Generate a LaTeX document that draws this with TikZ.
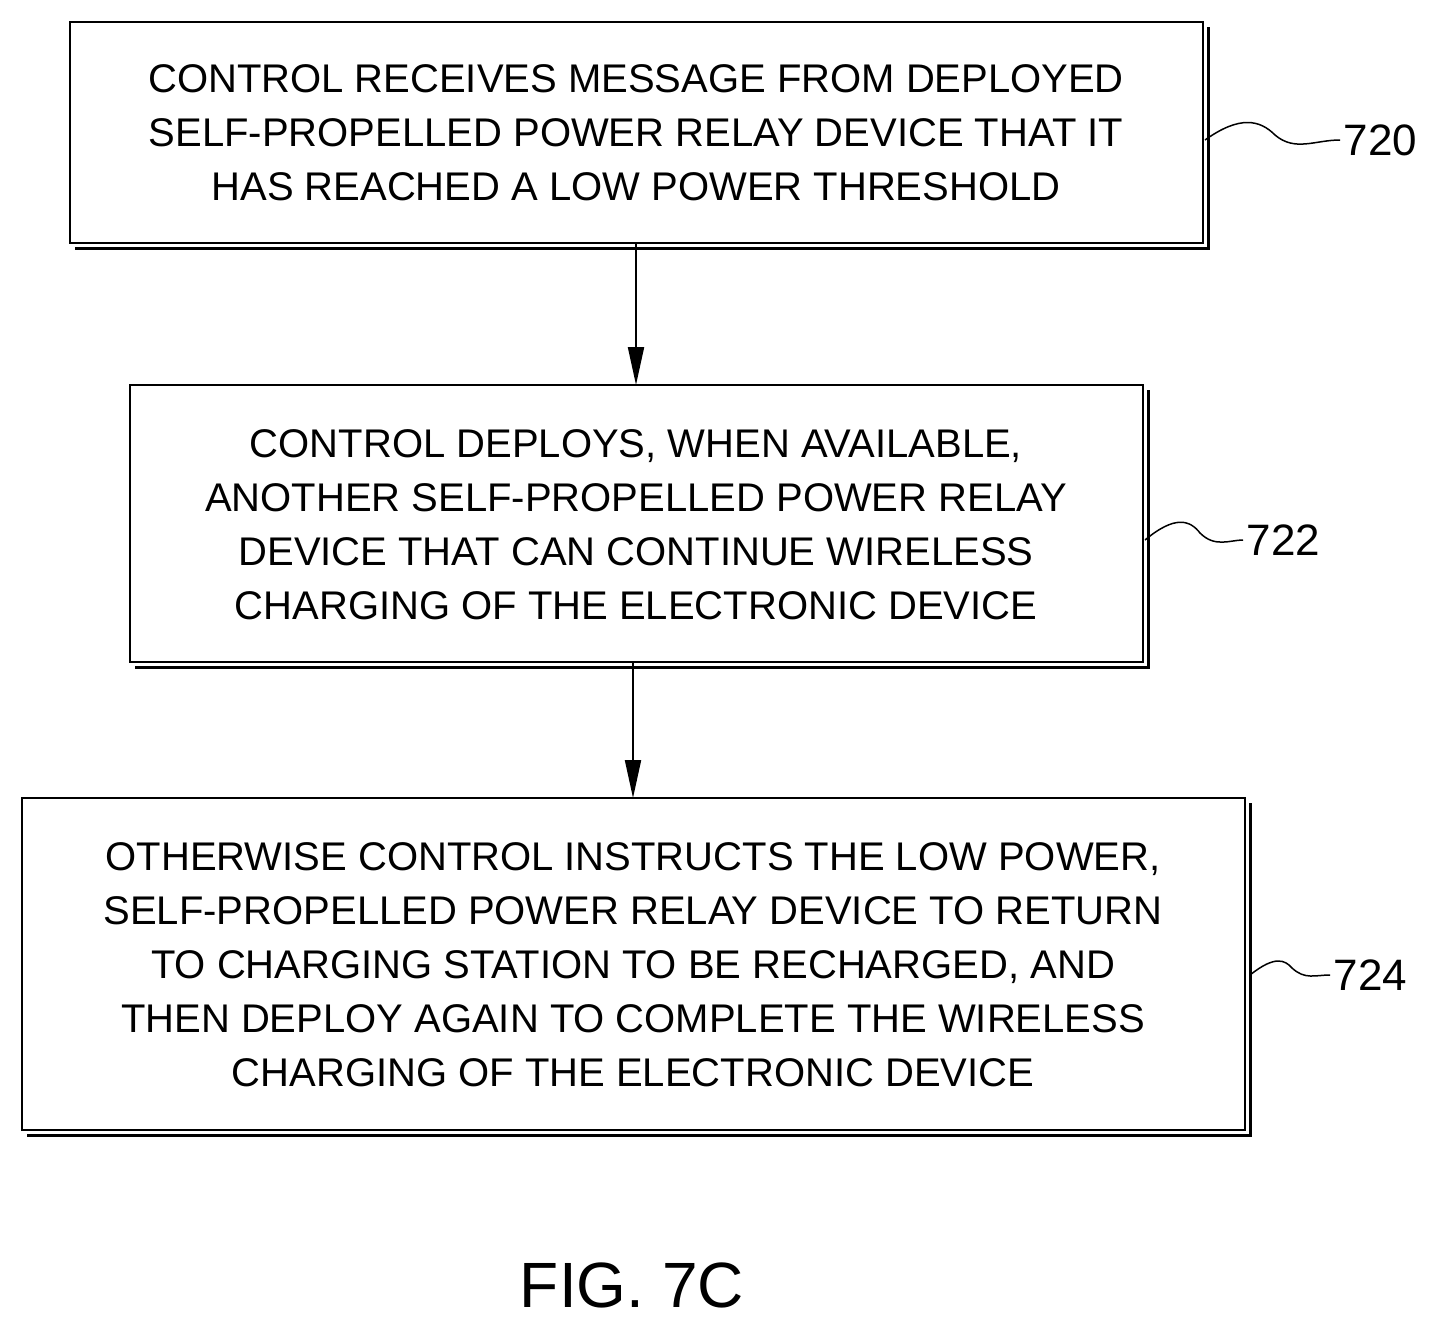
\documentclass[tikz,border=0pt]{standalone}
\usepackage{fontspec}
\setmainfont{Liberation Sans}
\usetikzlibrary{arrows.meta}
\begin{document}
\begin{tikzpicture}[x=1pt,y=-1pt,
  box/.style={draw,line width=2pt,fill=white,align=center,font=\fontsize{40}{54}\selectfont,inner sep=0pt},
  shadow/.style={line width=3pt},
  arr/.style={line width=2pt,-{Triangle[length=38pt,width=16pt]}},
  lab/.style={font=\fontsize{44}{50}\selectfont,anchor=west},
  sq/.style={line width=1.5pt}]
\useasboundingbox (0,0) rectangle (1447,1331);
% box 1
\draw[shadow] (75,248) -- (1208,248) -- (1208,27);
\draw[box] (70,22) rectangle (1203,243);
\node[font=\fontsize{40}{54}\selectfont,align=center] (b1) at (636,133) {CONTROL RECEIVES MESSAGE FROM DEPLOYED\\SELF-PROPELLED POWER RELAY DEVICE THAT IT\\HAS REACHED A LOW POWER THRESHOLD};
\coordinate (b1s) at (636,243);
% box 2
\draw[shadow] (135,667) -- (1148,667) -- (1148,390);
\draw[box] (130,385) rectangle (1143,662);
\node[font=\fontsize{40}{54}\selectfont,align=center] (b2) at (636,525) {CONTROL DEPLOYS, WHEN AVAILABLE,\\ANOTHER SELF-PROPELLED POWER RELAY\\DEVICE THAT CAN CONTINUE WIRELESS\\CHARGING OF THE ELECTRONIC DEVICE};
\coordinate (b2n) at (636,385);
\coordinate (b2s) at (633,662);
% box 3
\draw[shadow] (27,1135) -- (1250,1135) -- (1250,803);
\draw[box] (22,798) rectangle (1245,1130);
\node[font=\fontsize{40}{54}\selectfont,align=center] (b3) at (633,965) {OTHERWISE CONTROL INSTRUCTS THE LOW POWER,\\SELF-PROPELLED POWER RELAY DEVICE TO RETURN\\TO CHARGING STATION TO BE RECHARGED, AND\\THEN DEPLOY AGAIN TO COMPLETE THE WIRELESS\\CHARGING OF THE ELECTRONIC DEVICE};
\coordinate (b3n) at (633,798);
\draw[arr] (b1s) -- (b2n);
\draw[arr] (b2s) -- (b3n);
% labels
\node[lab] (l720) at (1340,140) {720};
\node[lab] (l722) at (1243,540) {722};
\node[lab] (l724) at (1330,975) {724};
\coordinate (e1) at (1205,140);
\coordinate (e2) at (1145,540);
\coordinate (e3) at (1250,975);
\draw[sq] (e1) .. controls (1240,115) and (1260,120) .. (1275,135) .. controls (1295,152) and (1315,140) .. (l720.west);
\draw[sq] (e2) .. controls (1175,515) and (1190,520) .. (1200,533) .. controls (1215,548) and (1230,540) .. (l722.west);
\draw[sq] (e3) .. controls (1275,955) and (1285,960) .. (1292,968) .. controls (1305,980) and (1315,975) .. (l724.west);
\node[font=\fontsize{64}{70}\selectfont] (fig) at (632,1285) {FIG. 7C};
\end{tikzpicture}
\end{document}
